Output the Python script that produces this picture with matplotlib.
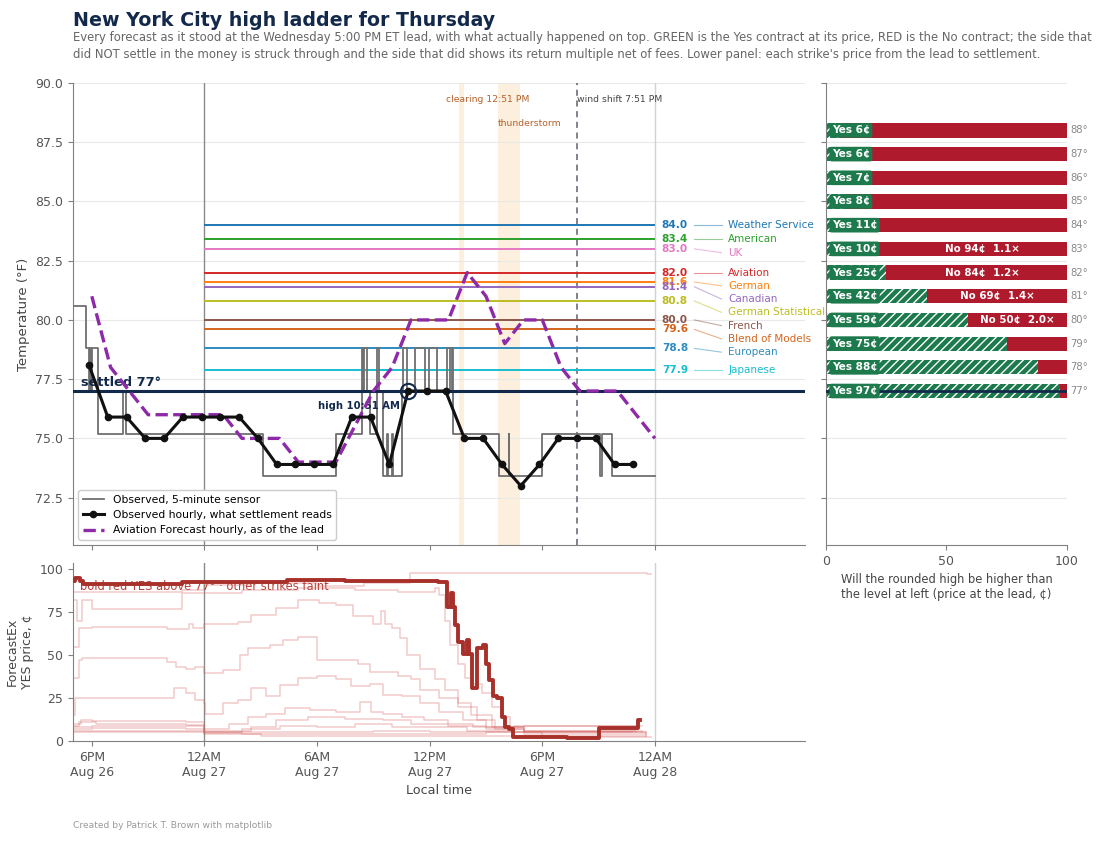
import pandas as pd
import matplotlib
matplotlib.use('Agg')
import matplotlib.pyplot as plt

LEAD = pd.Timestamp('2026-08-26 17:00')


def hours(stamps):
    # hours after the Wednesday 5 PM lead
    return [(pd.Timestamp('2026-' + s) - LEAD).total_seconds() / 3600 for s in stamps]


NAVY = '#13294b'
GREEN = '#1d7a4d'
RED = '#b01a2d'
PURPLE = '#8e2aa8'

# ---- observed, 5-minute sensor (whole deg C shown in F) ----
sensor_times = ['08-26 17:00', '08-26 17:42', '08-26 17:51', '08-26 17:53', '08-26 17:57',
                '08-26 18:00', '08-26 18:21', '08-26 19:41', '08-26 19:48', '08-27 03:08',
                '08-27 07:00', '08-27 08:23', '08-27 08:27', '08-27 08:31', '08-27 08:39',
                '08-27 08:50', '08-27 09:13', '08-27 09:18', '08-27 09:32', '08-27 09:45',
                '08-27 09:48', '08-27 10:00', '08-27 10:03', '08-27 10:31', '08-27 10:36',
                '08-27 10:47', '08-27 11:13', '08-27 11:45', '08-27 11:59', '08-27 12:22',
                '08-27 12:55', '08-27 13:05', '08-27 13:10', '08-27 13:16', '08-27 15:42',
                '08-27 16:12', '08-27 16:15', '08-27 17:58', '08-27 21:05', '08-27 21:10',
                '08-27 21:42', '08-28 00:00']
sensor_f = [80.6, 78.8, 77.0, 78.8, 77.0, 78.8, 75.2, 77.0, 75.2, 73.4,
            75.2, 78.8, 77.0, 78.8, 77.0, 75.2, 78.8, 77.0, 73.4, 75.2,
            73.4, 75.2, 73.4, 77.0, 78.8, 77.0, 78.8, 77.0, 78.8, 77.0,
            78.8, 77.0, 78.8, 75.2, 73.4, 75.2, 73.4, 75.2, 73.4, 75.2,
            73.4, 73.4]

# ---- observed hourly (what settlement reads) ----
hourly_times = ['08-26 17:51', '08-26 18:51', '08-26 19:51', '08-26 20:51', '08-26 21:51',
                '08-26 22:51', '08-26 23:51', '08-27 00:51', '08-27 01:51', '08-27 02:51',
                '08-27 03:51', '08-27 04:51', '08-27 05:51', '08-27 06:51', '08-27 07:51',
                '08-27 08:51', '08-27 09:51', '08-27 10:51', '08-27 11:51', '08-27 12:51',
                '08-27 13:51', '08-27 14:51', '08-27 15:51', '08-27 16:51', '08-27 17:51',
                '08-27 18:51', '08-27 19:51', '08-27 20:51', '08-27 21:51', '08-27 22:51']
hourly_f = [78.1, 75.9, 75.9, 75.0, 75.0, 75.9, 75.9, 75.9, 75.9, 75.0,
            73.9, 73.9, 73.9, 73.9, 75.9, 75.9, 73.9, 77.0, 77.0, 77.0,
            75.0, 75.0, 73.9, 73.0, 73.9, 75.0, 75.0, 75.0, 73.9, 73.9]

# ---- aviation forecast hourly, as of the lead ----
avn_times = ['08-26 18:00', '08-26 19:00', '08-26 20:00', '08-26 21:00', '08-26 22:00',
             '08-26 23:00', '08-27 00:00', '08-27 01:00', '08-27 02:00', '08-27 03:00',
             '08-27 04:00', '08-27 05:00', '08-27 06:00', '08-27 07:00', '08-27 08:00',
             '08-27 09:00', '08-27 10:00', '08-27 11:00', '08-27 12:00', '08-27 13:00',
             '08-27 14:00', '08-27 15:00', '08-27 16:00', '08-27 17:00', '08-27 18:00',
             '08-27 19:00', '08-27 20:00', '08-27 21:00', '08-27 22:00', '08-27 23:00',
             '08-28 00:00']
avn_f = [81, 78, 77, 76, 76, 76, 76, 76, 75, 75,
         75, 74, 74, 74, 75.5, 77, 78, 80, 80, 80,
         82, 81, 79, 80, 80, 78, 77, 77, 77, 76,
         75]

# ---- daily-high forecasts at the lead ----
model_names = ['Weather Service', 'American', 'UK', 'Aviation', 'German', 'Canadian',
               'German Statistical', 'French', 'Blend of Models', 'European', 'Japanese']
model_highs = [84.0, 83.4, 83.0, 82.0, 81.6, 81.4, 80.8, 80.0, 79.6, 78.8, 77.9]
model_colors = ['#1f77b4', '#2ca02c', '#e377c2', '#d62728', '#ff7f0e', '#9467bd',
                '#bcbd22', '#8c564b', '#d2641e', '#2f8cc0', '#17becf']

settled = 77
high_time = '08-27 10:51'
clearing_span = ['08-27 13:34', '08-27 13:50']
storm_span = ['08-27 15:38', '08-27 16:49']
clearing_time = '08-27 12:51'
wind_time = '08-27 19:51'

# ---- ladder at the lead ----
strikes = [88, 87, 86, 85, 84, 83, 82, 81, 80, 79, 78, 77]
yes_price = [6, 6, 7, 8, 11, 10, 25, 42, 59, 75, 88, 97]
no_price = [None, None, None, None, None, 94, 84, 69, 50, None, None, None]
no_multiple = [None, None, None, None, None, 1.1, 1.2, 1.4, 2.0, None, None, None]

# ---- ForecastEx YES prices (hours after lead, cents) ----
bold77_h = [0, 0.1, 0.35, 0.55, 5.8, 11.4, 14.5, 16.0, 17.3, 19.0, 19.46, 19.9, 19.91,
            20.12, 20.23, 20.35, 20.49, 20.8, 21.01, 21.12, 21.24, 21.51, 21.86, 22.0,
            22.18, 22.36, 22.6, 22.84, 23.02, 23.2, 23.46, 26.0, 26.3, 28.0, 30.12, 30.2]
bold77_p = [93, 95, 93, 91.5, 92.8, 94, 93.5, 93, 93.5, 93, 92.8, 90, 78,
            86, 78, 67.6, 58, 51, 58.8, 51, 31, 54, 56, 45,
            35.5, 26, 25, 14, 8, 7, 2.5, 2.5, 1.8, 7.4, 12.2, 12.2]

yes76_h = [0, 5.8, 7.0, 9.5, 13.0, 15.5, 17.95, 30.6, 30.8]
yes76_p = [87, 88, 91, 92, 90.5, 92, 98, 97.5, 97.5]
yes78_h = [0, 0.2, 0.5, 1.0, 5.8, 7.0, 9.0, 12.0, 15.0, 17.3, 19.3, 19.5, 19.8, 20.1,
           20.5, 20.9, 21.3, 21.8, 22.3, 22.8, 23.3, 24.0, 30.0]
yes78_p = [82, 70, 82, 77, 86, 86, 88, 89, 88, 87, 89, 85, 70, 56,
           45, 37, 33, 28, 20, 14, 8, 6, 5]
yes79_h = [0, 0.3, 1.0, 5.0, 6.2, 6.4, 7.0, 8.8, 9.5, 10.8, 12.0, 13.1, 14.0, 14.9,
           16.0, 16.4, 16.6, 17.0, 17.4, 17.8, 18.5, 19.3, 19.8, 20.5, 21.2, 22.3, 23.5, 30.5]
yes79_p = [55, 66, 66.6, 65.5, 68.5, 66, 68.5, 69.5, 73.5, 77.4, 82.2, 80.5, 79, 73,
           68.5, 76, 68, 66, 60, 50, 42, 36, 30, 22, 15, 8, 5, 4.5]
yes80_h = [0, 0.3, 0.5, 3.0, 5.0, 5.5, 6.0, 6.5, 7.0, 8.0, 8.9, 9.3, 10.5, 11.2, 12.0,
           13.0, 15.2, 15.8, 17.3, 18.0, 18.5, 19.5, 20.5, 21.5, 22.5, 24.0, 30.5]
yes80_p = [36.5, 47, 48.2, 48.2, 46, 43.3, 42, 43, 39.4, 41.3, 50, 54.4, 56, 58.8, 60.7,
           47.2, 45, 40, 38, 36, 30, 25, 20, 12, 8, 5, 4]
yes81_h = [0, 0.1, 5.0, 5.4, 6.0, 6.5, 7.0, 7.05, 8.0, 8.8, 9.5, 10.3, 11.0, 12.0, 13.0,
           14.0, 14.8, 15.8, 16.5, 17.5, 18.5, 19.5, 20.8, 22.0, 24.0, 30.5]
yes81_p = [15, 24.8, 24.8, 30.7, 28, 24, 22, 16, 22, 24, 30.7, 26, 32.6, 37, 38,
           36, 32, 33, 27, 26, 22, 17, 12, 7, 4, 3]
yes82_h = [0, 0.4, 1.0, 6.0, 7.0, 8.3, 9.3, 10.3, 11.3, 12.6, 14.0, 15.3, 15.9, 16.5,
           17.5, 18.7, 20.0, 21.3, 22.5, 24.0, 30.3]
yes82_p = [10, 12.5, 11.5, 11, 7, 10, 14, 16, 19, 18, 17, 23, 17, 16,
           14, 12, 10, 8, 7, 6, 5.5]
yes83_h = [0, 0.3, 1.2, 6.0, 7.0, 9.5, 10.8, 12.5, 14.5, 16.5, 18.0, 20.0, 22.0, 24.0, 30.3]
yes83_p = [9, 11, 10, 9.5, 6, 8, 12, 14, 13, 12, 10, 9, 8, 8.5, 8.5]
yes84_h = [0, 1.0, 6.0, 7.0, 9.0, 11.0, 13.0, 15.0, 17.0, 19.0, 21.0, 23.5, 26.0, 30.0]
yes84_p = [8, 9, 8.5, 5.5, 7, 9, 8, 10, 8, 8, 6, 9, 9, 9]
yes85_h = [0, 1, 6, 7, 10, 12, 16, 19, 23, 29.8]
yes85_p = [7, 7.5, 7, 5, 5.5, 5, 6, 5, 5, 5]
yes86_h = [0, 6, 7, 9, 13, 18, 22, 25, 30.5]
yes86_p = [6, 6, 4.5, 4, 4, 4, 5, 3, 3]
yes87_h = [0, 6, 7, 10, 15, 20, 25, 30.8]
yes87_p = [5, 5.5, 4, 3, 3, 3, 2.5, 2.5]

tick_times = ['08-26 18:00', '08-27 00:00', '08-27 06:00', '08-27 12:00', '08-27 18:00', '08-28 00:00']
tick_labels = ['6PM\nAug 26', '12AM\nAug 27', '6AM\nAug 27', '12PM\nAug 27', '6PM\nAug 27', '12AM\nAug 28']

# ------------------------------------------------------------------
fig = plt.figure(figsize=(11, 8.43), dpi=100)
ax = fig.add_axes([0.0664, 0.3535, 0.6655, 0.548])
axp = fig.add_axes([0.0664, 0.121, 0.6655, 0.2112], sharex=ax)
axr = fig.add_axes([0.7509, 0.3535, 0.2191, 0.548], sharey=ax)
axr.set_facecolor('none')

for a in (ax, axp, axr):
    for side in ('top', 'right'):
        a.spines[side].set_visible(False)
    for side in ('left', 'bottom'):
        a.spines[side].set_color('#808080')
    a.tick_params(colors='#808080', labelcolor='#555555', labelsize=9)

fig.text(0.0664, 1 - 20 / 843, 'New York City high ladder for Thursday', fontsize=13.7,
         fontweight='bold', color=NAVY, va='center')
fig.text(0.0664, 1 - 31 / 843,
         'Every forecast as it stood at the Wednesday 5:00 PM ET lead, with what actually happened on top. '
         'GREEN is the Yes contract at its price, RED is the No contract; the side that\n'
         'did NOT settle in the money is struck through and the side that did shows its return multiple '
         'net of fees. Lower panel: each strike\'s price from the lead to settlement.',
         fontsize=8.35, color='#666666', va='top', linespacing=1.38)
fig.text(0.0664, 1 - 826 / 843, 'Created by Patrick T. Brown with matplotlib', fontsize=6.6,
         color='#9a9a9a', va='center')

# ---- main panel ----
day0, day1 = hours(['08-27 00:00', '08-28 00:00'])
ax.set_xlim(0, 39)
ax.set_ylim(70.5, 90)
ax.set_yticks([72.5, 75, 77.5, 80, 82.5, 85, 87.5, 90])
ax.yaxis.grid(True, color='#e8e8e8', lw=0.8)
ax.set_axisbelow(True)
ax.set_ylabel('Temperature (°F)', fontsize=9.5, color='#444444')
ax.tick_params(labelbottom=False)

c0, c1 = hours(clearing_span)
s0, s1 = hours(storm_span)
ax.axvspan(c0, c1, color='#f5b868', alpha=0.22, lw=0, zorder=0)
ax.axvspan(s0, s1, color='#f5b868', alpha=0.22, lw=0, zorder=0)
clear_h = hours([clearing_time])[0]
wind_h = hours([wind_time])[0]
ax.text(clear_h, 89.3, 'clearing 12:51 PM', fontsize=6.7, color='#b5602a', va='center')
ax.text(s0, 88.3, 'thunderstorm', fontsize=6.7, color='#b5602a', va='center')
ax.axvline(wind_h, color='#606070', lw=1.1, ls=(0, (4, 3)), zorder=2)
ax.text(wind_h, 89.3, 'wind shift 7:51 PM', fontsize=6.7, color='#444444', va='center')

for a in (ax, axp):
    a.axvline(day0, color='#8a8a8a', lw=1, zorder=1)
    a.axvline(day1, color='#cdd2da', lw=1, zorder=1)

# model high lines + spread-out name labels
label_y = []
for v in model_highs:
    y = v if not label_y else min(v, label_y[-1] - 0.56)
    label_y.append(y)
for name, v, ly, c in zip(model_names, model_highs, label_y, model_colors):
    ax.hlines(v, day0, day1, color=c, lw=1.4, zorder=2)
    ax.text(day1 + 0.37, v, f'{v:.1f}', color=c, fontsize=7.6, fontweight='bold',
            va='center', ha='left', clip_on=False)
    ax.plot([day1 + 2.1, day1 + 3.55], [v, ly], color=c, lw=0.8, alpha=0.5, clip_on=False)
    ax.text(day1 + 3.9, ly, name, color=c, fontsize=7.5, va='center', ha='left', clip_on=False)

ax.plot(hours(sensor_times), sensor_f, drawstyle='steps-post', color='#707070', lw=1.3,
        zorder=3, label='Observed, 5-minute sensor')
ax.axhline(settled, color=NAVY, lw=2.2, zorder=4)
ax.text(0.45, settled + 0.08, f'settled {settled}°', fontsize=9.3, fontweight='bold',
        color=NAVY, va='bottom')
ax.plot(hours(hourly_times), hourly_f, color='#111111', lw=2.2, marker='o', ms=4.5, zorder=6,
        label='Observed hourly, what settlement reads')
ax.plot(hours(avn_times), avn_f, color=PURPLE, lw=2.4, ls='--', zorder=5,
        label='Aviation Forecast hourly, as of the lead')
hh = hours([high_time])[0]
hv = hourly_f[hourly_times.index(high_time)]
ax.plot(hh, hv, marker='o', ms=11, mfc='none', mec=NAVY, mew=1.5, zorder=7)
ax.annotate('high 10:51 AM', (hh, hv), xytext=(-6, -11), textcoords='offset points',
            ha='right', va='center', fontsize=7.2, fontweight='bold', color=NAVY)
leg = ax.legend(loc='lower left', fontsize=7.75, framealpha=1, edgecolor='#cccccc', fancybox=True)
leg.set_zorder(10)

# ---- ladder panel ----
axr.set_xlim(0, 100)
axr.set_xticks([0, 50, 100])
axr.tick_params(axis='y', labelleft=False)
axr.yaxis.grid(True, color='#e8e8e8', lw=0.8)
axr.set_axisbelow(True)
for s, yes, no, mult in zip(strikes, yes_price, no_price, no_multiple):
    struck = s >= settled
    axr.barh(s, yes, height=0.6, color=GREEN, edgecolor='white', lw=0,
             hatch='////' if struck else None, zorder=2)
    axr.barh(s, 100 - yes, left=yes, height=0.6, color=RED, lw=0, zorder=2)
    axr.text(2.4, s, f'Yes {yes}¢', color='white', fontsize=7.6, fontweight='bold', va='center',
             ha='left', zorder=5,
             bbox=dict(boxstyle='round,pad=0.22', fc=GREEN, ec='none'))
    if no is not None:
        axr.text(max((yes + 100) / 2, 65), s, f'No {no}¢  {mult:.1f}×', color='white',
                 fontsize=7.4, fontweight='bold', va='center', ha='center', zorder=5)
    axr.text(101.2, s, f'{s}°', color='#888888', fontsize=7.2, va='center', ha='left',
             clip_on=False)
axr.axhline(settled, color=NAVY, lw=2, zorder=4)
axr.set_xlabel('Will the rounded high be higher than\nthe level at left (price at the lead, ¢)',
               fontsize=8.3, color='#444444')

# ---- price panel ----
faint = [(yes76_h, yes76_p), (yes78_h, yes78_p), (yes79_h, yes79_p), (yes80_h, yes80_p),
         (yes81_h, yes81_p), (yes82_h, yes82_p), (yes83_h, yes83_p), (yes84_h, yes84_p),
         (yes85_h, yes85_p), (yes86_h, yes86_p), (yes87_h, yes87_p)]
for h, p in faint:
    axp.plot(h, p, drawstyle='steps-post', color='#d2605c', alpha=0.33, lw=1.1, zorder=2)
axp.plot(bold77_h, bold77_p, drawstyle='steps-post', color='#a8302a', lw=2.8, zorder=5)
axp.text(0.01, 0.865, f'bold red YES above {settled}° · other strikes faint',
         transform=axp.transAxes, color='#b5413a', fontsize=8.3, va='center', zorder=1)
axp.set_ylim(0, 103.8)
axp.set_yticks([0, 25, 50, 75, 100])
axp.set_xticks(hours(tick_times))
axp.set_xticklabels(tick_labels)
axp.set_ylabel('ForecastEx\nYES price, ¢', fontsize=9, color='#444444')
axp.set_xlabel('Local time', fontsize=9.2, color='#444444')

fig.savefig('out.png', dpi=100)
